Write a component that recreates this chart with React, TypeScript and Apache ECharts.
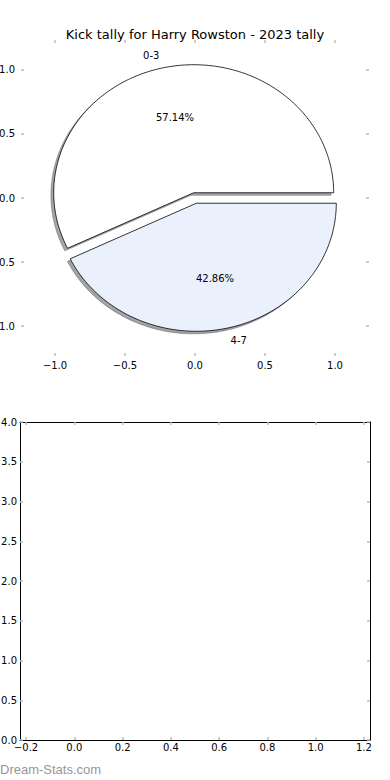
import React, { useEffect, useRef } from "react";
import * as echarts from "echarts";

const TITLE = "Kick tally for Harry Rowston - 2023 tally";
const SLICE_LABELS = ["0-3", "4-7"];
const SLICE_VALUES = [4, 3];
const SLICE_COLORS = ["#ffffff", "#eaf0fc"];
const SHADOW_COLORS = ["rgba(77,77,77,0.5)", "rgba(70,72,76,0.5)"];
const EXPLODE = [0.042, 0.042];

const PIE_TICKS = [-1, -0.5, 0, 0.5, 1];
const BOTTOM_X_TICKS = [-0.2, 0, 0.2, 0.4, 0.6, 0.8, 1.0, 1.2];
const WATERMARK = "Dream-Stats.com";

const FONT = "DejaVu Sans";
const TICK_COLOR = "#bdbdbd";

const fmt = (v: number) => {
  const s = Math.abs(v).toFixed(1);
  return v < -1e-9 ? "\u2212" + s : s;
};

function sliceGeom(i: number) {
  const total = SLICE_VALUES.reduce((a, b) => a + b, 0);
  let cum = 0;
  for (let k = 0; k < i; k++) cum += SLICE_VALUES[k];
  const t1 = (360 * cum) / total;
  const t2 = (360 * (cum + SLICE_VALUES[i])) / total;
  const mid = (((t1 + t2) / 2) * Math.PI) / 180;
  const cx = EXPLODE[i] * Math.cos(mid);
  const cy = EXPLODE[i] * Math.sin(mid);
  const pts: number[][] = [[cx, cy]];
  const steps = Math.max(8, Math.ceil(t2 - t1));
  for (let s = 0; s <= steps; s++) {
    const a = ((t1 + ((t2 - t1) * s) / steps) * Math.PI) / 180;
    pts.push([cx + Math.cos(a), cy + Math.sin(a)]);
  }
  return { pts, mid, cx, cy, pct: (100 * SLICE_VALUES[i]) / total };
}

export default function App() {
  const ref = useRef<HTMLDivElement>(null);
  useEffect(() => {
    document.body.style.margin = "0";
    if (!ref.current) return;
    const chart = echarts.init(ref.current, null, { renderer: "svg" });
    const sliceData = SLICE_VALUES.map((_, i) => [0, 0, i]);

    const tickStyle = (vals?: number[]) => {
      const t: any = {
        show: true,
        inside: true,
        length: 3,
        lineStyle: { color: TICK_COLOR, width: 1.5 },
      };
      if (vals) t.customValues = vals;
      return t;
    };
    const hiddenLine = { show: false, onZero: false };
    const frameLine = { show: true, onZero: false, lineStyle: { color: "#000", width: 1 } };
    const labelStyle = (margin: number, vals?: number[]) => {
      const l: any = { formatter: fmt, margin, fontFamily: FONT, fontSize: 10, color: "#000" };
      if (vals) l.customValues = vals;
      return l;
    };

    const option: any = {
      animation: false,
      backgroundColor: "#ffffff",
      title: {
        text: TITLE,
        left: "center",
        top: 23,
        textStyle: { fontFamily: FONT, fontSize: 13, fontWeight: "normal", color: "#000" },
      },
      grid: [
        { left: 21, top: 40, width: 348, height: 316, containLabel: false, outerBoundsMode: "none" },
        { left: 20, top: 422, width: 350, height: 318, containLabel: false, outerBoundsMode: "none" },
      ],
      xAxis: [
        {
          gridIndex: 0, type: "value", position: "bottom", min: -1.243, max: 1.243,
          axisLine: hiddenLine, splitLine: { show: false },
          axisTick: tickStyle(PIE_TICKS),
          axisLabel: labelStyle(4, PIE_TICKS),
        },
        {
          gridIndex: 0, type: "value", position: "top", min: -1.243, max: 1.243,
          axisLine: hiddenLine, splitLine: { show: false },
          axisTick: tickStyle(PIE_TICKS), axisLabel: { show: false },
        },
        {
          gridIndex: 1, type: "value", position: "bottom", min: -0.225, max: 1.225,
          axisLine: frameLine, splitLine: { show: false },
          axisTick: tickStyle(BOTTOM_X_TICKS),
          axisLabel: labelStyle(2, BOTTOM_X_TICKS),
        },
        {
          gridIndex: 1, type: "value", position: "top", min: -0.225, max: 1.225,
          axisLine: frameLine, splitLine: { show: false },
          axisTick: tickStyle(BOTTOM_X_TICKS), axisLabel: { show: false },
        },
      ],
      yAxis: [
        {
          gridIndex: 0, type: "value", position: "left", min: -1.234, max: 1.234,
          axisLine: hiddenLine, splitLine: { show: false },
          axisTick: tickStyle(PIE_TICKS),
          axisLabel: labelStyle(6, PIE_TICKS),
        },
        {
          gridIndex: 0, type: "value", position: "right", min: -1.234, max: 1.234,
          axisLine: hiddenLine, splitLine: { show: false },
          axisTick: tickStyle(PIE_TICKS), axisLabel: { show: false },
        },
        {
          gridIndex: 1, type: "value", position: "left", min: 0, max: 4, interval: 0.5,
          axisLine: frameLine, splitLine: { show: false },
          axisTick: tickStyle(),
          axisLabel: labelStyle(3),
        },
        {
          gridIndex: 1, type: "value", position: "right", min: 0, max: 4, interval: 0.5,
          axisLine: frameLine, splitLine: { show: false },
          axisTick: tickStyle(),
          axisLabel: { show: false },
        },
      ],
      series: [
        {
          type: "custom",
          xAxisIndex: 0,
          yAxisIndex: 0,
          data: sliceData,
          silent: true,
          renderItem: (params: any, api: any) => {
            const i = params.dataIndex;
            const g = sliceGeom(i);
            const points = g.pts.map((p) => api.coord([p[0] - 0.02, p[1] - 0.02]));
            return {
              type: "polygon",
              shape: { points },
              style: { fill: SHADOW_COLORS[i], stroke: SHADOW_COLORS[i], lineWidth: 0.8 },
            };
          },
        },
        {
          type: "custom",
          xAxisIndex: 0,
          yAxisIndex: 0,
          data: sliceData,
          silent: true,
          renderItem: (params: any, api: any) => {
            const i = params.dataIndex;
            const g = sliceGeom(i);
            const points = g.pts.map((p) => api.coord(p));
            const cosM = Math.cos(g.mid);
            const sinM = Math.sin(g.mid);
            const lp = api.coord([g.cx + 1.1 * cosM, g.cy + 1.1 * sinM]);
            const pp = api.coord([g.cx + 0.6 * cosM, g.cy + 0.6 * sinM]);
            return {
              type: "group",
              children: [
                {
                  type: "polygon",
                  shape: { points },
                  style: { fill: SLICE_COLORS[i], stroke: "#000", lineWidth: 0.8 },
                },
                {
                  type: "text",
                  x: lp[0],
                  y: lp[1],
                  style: {
                    text: SLICE_LABELS[i],
                    fill: "#000",
                    font: `10px "${FONT}"`,
                    align: cosM < 0 ? "right" : "left",
                    verticalAlign: "middle",
                  },
                },
                {
                  type: "text",
                  x: pp[0],
                  y: pp[1],
                  style: {
                    text: g.pct.toFixed(2) + "%",
                    fill: "#000",
                    font: `10px "${FONT}"`,
                    align: "center",
                    verticalAlign: "middle",
                  },
                },
              ],
            };
          },
        },
        { type: "scatter", xAxisIndex: 2, yAxisIndex: 2, data: [], silent: true },
      ],
      graphic: [
        {
          type: "text",
          left: 0,
          top: 763,
          style: {
            text: WATERMARK,
            fill: "#969696",
            font: '13px "Liberation Sans"',
          },
        },
      ],
    };
    chart.setOption(option);
    return () => chart.dispose();
  }, []);
  return <div ref={ref} style={{ width: 390, height: 780 }} />;
}
